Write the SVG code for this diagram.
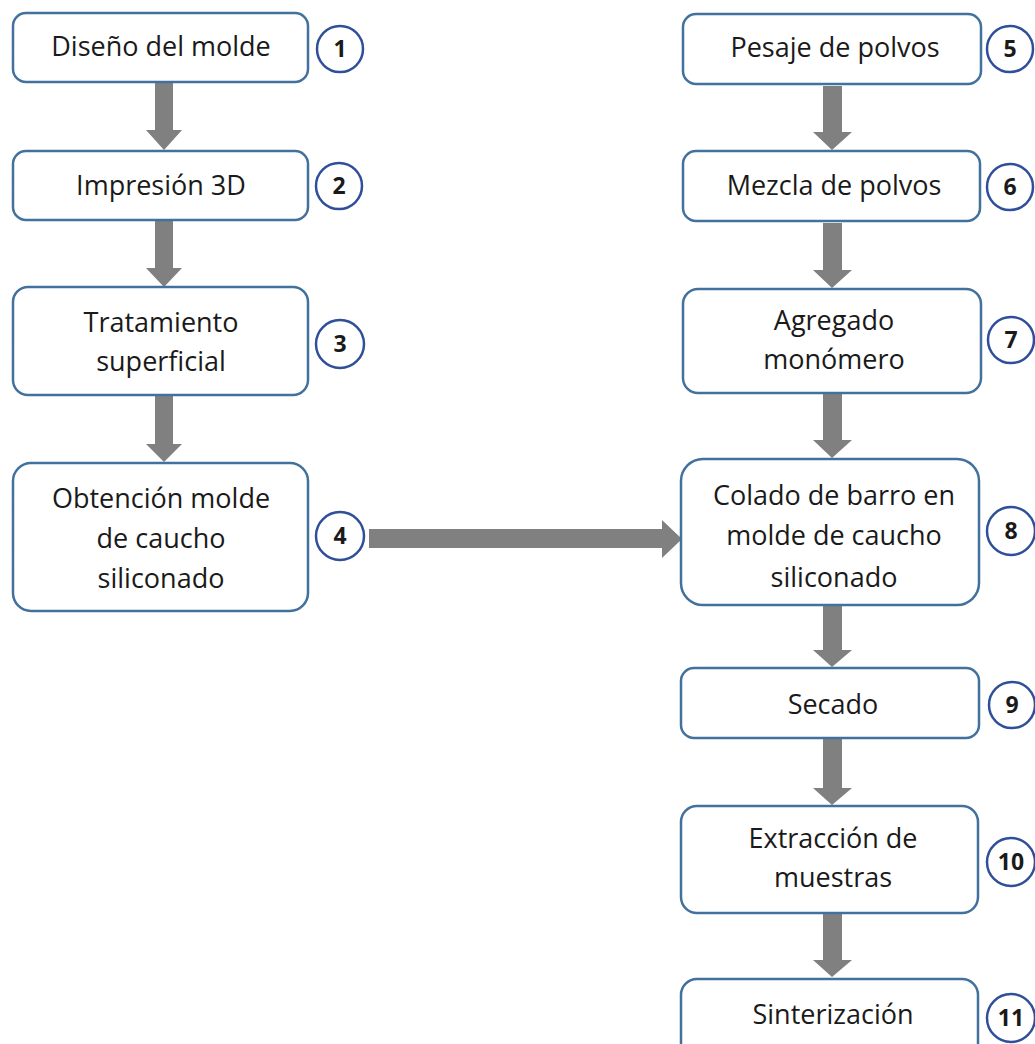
<svg xmlns="http://www.w3.org/2000/svg" width="1035" height="1044" viewBox="0 0 1035 1044">
<style>
.box{fill:#fff;stroke:#41719c;stroke-width:2.5}
.num{fill:#fff;stroke:#2f4f9b;stroke-width:2.5}
.t{font-family:"Open Sans","Liberation Sans",sans-serif;font-size:27px;fill:#1a1a1a;text-anchor:middle}
.n{font-family:"Open Sans","Liberation Sans",sans-serif;font-size:23px;font-weight:bold;fill:#1a1a1a;text-anchor:middle}
.arr{fill:#808080}
</style>
<rect width="1035" height="1044" fill="#fff"/>
<g id="connectors">
<polygon class="arr" points="155,83 173,83 173,130 182,130 164,150 146,130 155,130"/>
<polygon class="arr" points="155,221 173,221 173,268 182,268 164,287 146,268 155,268"/>
<polygon class="arr" points="155,396 173,396 173,444 182,444 164,462 146,444 155,444"/>
<polygon class="arr" points="369,529 662,529 662,520 682,539 662,558 662,548 369,548"/>
<polygon class="arr" points="823,86 842,86 842,132 852,132 832,150 813,132 823,132"/>
<polygon class="arr" points="823,223 842,223 842,270 852,270 832,288 813,270 823,270"/>
<polygon class="arr" points="823,394 842,394 842,440 852,440 832,458 813,440 823,440"/>
<polygon class="arr" points="823,606 842,606 842,650 852,650 832,667 813,650 823,650"/>
<polygon class="arr" points="823,739 842,739 842,788 852,788 832,805 813,788 823,788"/>
<polygon class="arr" points="823,914 842,914 842,960 852,960 832,977 813,960 823,960"/>
</g>
<g id="n1"><rect class="box" x="13" y="13" width="295" height="69" rx="13"/><text class="t" x="161" y="56">Diseño del molde</text><circle class="num" cx="340" cy="49" r="23"/><text class="n" x="340" y="57">1</text></g>
<g id="n2"><rect class="box" x="13" y="151" width="295" height="69" rx="13"/><text class="t" x="161" y="195">Impresión 3D</text><circle class="num" cx="339" cy="186" r="23"/><text class="n" x="339" y="194">2</text></g>
<g id="n3"><rect class="box" x="13" y="287" width="295" height="108" rx="15"/><text class="t" x="161" y="332">Tratamiento</text><text class="t" x="161" y="371">superficial</text><circle class="num" cx="340" cy="344" r="24"/><text class="n" x="340" y="352">3</text></g>
<g id="n4"><rect class="box" x="13" y="463" width="295" height="148" rx="18"/><text class="t" x="161" y="508">Obtención molde</text><text class="t" x="161" y="548">de caucho</text><text class="t" x="161" y="588">siliconado</text><circle class="num" cx="340" cy="536" r="24"/><text class="n" x="340" y="544">4</text></g>
<g id="n5"><rect class="box" x="683" y="14" width="298" height="70" rx="13"/><text class="t" x="835" y="57">Pesaje de polvos</text><circle class="num" cx="1010" cy="49" r="23"/><text class="n" x="1010" y="57">5</text></g>
<g id="n6"><rect class="box" x="683" y="151" width="297" height="70" rx="13"/><text class="t" x="834" y="195">Mezcla de polvos</text><circle class="num" cx="1010" cy="187" r="23"/><text class="n" x="1010" y="195">6</text></g>
<g id="n7"><rect class="box" x="683" y="289" width="298" height="104" rx="15"/><text class="t" x="834" y="330">Agregado</text><text class="t" x="834" y="369">monómero</text><circle class="num" cx="1011" cy="340" r="23"/><text class="n" x="1011" y="348">7</text></g>
<g id="n8"><rect class="box" x="681" y="459" width="298" height="146" rx="22"/><text class="t" x="834" y="505">Colado de barro en</text><text class="t" x="834" y="545">molde de caucho</text><text class="t" x="834" y="587">siliconado</text><circle class="num" cx="1011" cy="531" r="24"/><text class="n" x="1011" y="539">8</text></g>
<g id="n9"><rect class="box" x="681" y="668" width="298" height="70" rx="13"/><text class="t" x="833" y="714">Secado</text><circle class="num" cx="1012" cy="705" r="23"/><text class="n" x="1012" y="713">9</text></g>
<g id="n10"><rect class="box" x="681" y="806" width="297" height="107" rx="16"/><text class="t" x="833" y="848">Extracción de</text><text class="t" x="833" y="887">muestras</text><circle class="num" cx="1011" cy="862" r="24"/><text class="n" x="1011" y="870">10</text></g>
<g id="n11"><rect class="box" x="681" y="979" width="297" height="80" rx="16"/><text class="t" x="833" y="1024">Sinterización</text><circle class="num" cx="1011" cy="1018" r="24"/><text class="n" x="1011" y="1026">11</text></g>
</svg>
